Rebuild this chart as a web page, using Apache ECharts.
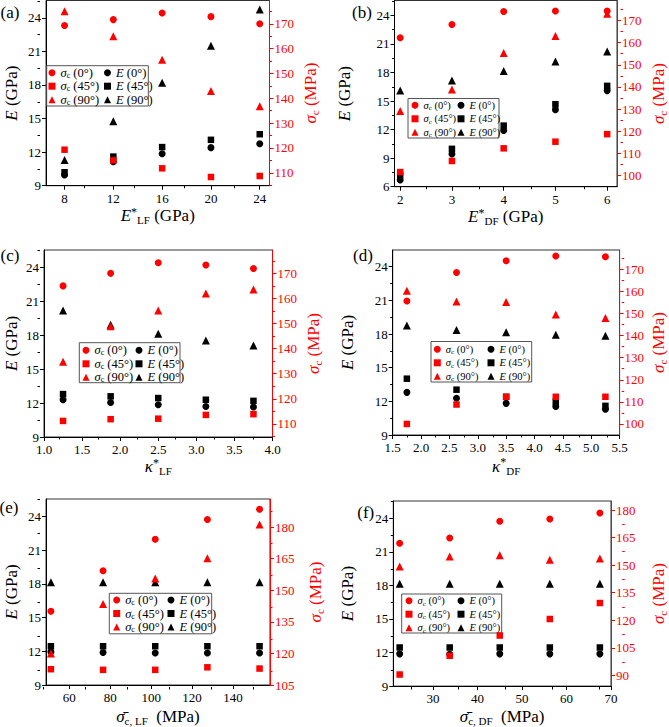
<!DOCTYPE html>
<html lang="en">
<head>
<meta charset="UTF-8">
<title>E and σc vs. layer parameters</title>
<style>
  html, body { margin: 0; padding: 0; background: #fff; }
  #main { width: 669px; height: 727px; }
</style>
</head>
<body>
<div id="main"></div>
<script src="https://cdn.jsdelivr.net/npm/echarts@6.0.0/dist/echarts.min.js"></script>
<script>
var FONT = 'Liberation Serif, Times New Roman, serif';
var RED = '#ff0000';

// (a) E*_LF
var aX = [8, 12, 16, 20, 24];
var aE0 = [9.95, 11.15, 11.86, 12.4, 12.75];
var aE45 = [10.2, 11.6, 12.45, 13.1, 13.6];
var aE90 = [11.3, 14.75, 18.2, 21.5, 24.75];
var aS0 = [169.3, 171.7, 174.4, 172.9, 170.0];
var aS45 = [119.3, 115.0, 111.8, 108.3, 108.7];
var aS90 = [175.1, 165.0, 155.5, 142.9, 136.8];

// (b) E*_DF
var bX = [2, 3, 4, 5, 6];
var bE0 = [6.7, 9.43, 11.9, 14.1, 16.1];
var bE45 = [7.2, 9.98, 12.42, 14.67, 16.6];
var bE90 = [16.1, 17.15, 18.15, 19.15, 20.2];
var bS0 = [162.2, 168.2, 174.0, 174.3, 174.3];
var bS45 = [101.6, 106.6, 112.3, 115.3, 118.7];
var bS90 = [129.1, 138.8, 155.3, 163.0, 173.0];

// (c) kappa*_LF
var cX = [1.25, 1.875, 2.5, 3.125, 3.75];
var cE0 = [12.3, 12.05, 11.85, 11.7, 11.65];
var cE45 = [12.8, 12.6, 12.45, 12.3, 12.2];
var cE90 = [20.2, 18.95, 18.15, 17.55, 17.1];
var cS0 = [165.0, 170.0, 174.2, 173.3, 171.9];
var cS45 = [111.2, 111.9, 112.1, 113.6, 113.9];
var cS90 = [134.8, 148.9, 155.2, 162.0, 163.6];

// (d) kappa*_DF
var dX = [1.75, 2.625, 3.5, 4.375, 5.25];
var dE0 = [12.8, 12.27, 11.82, 11.55, 11.3];
var dE45 = [14.02, 13.04, 12.4, 11.97, 11.6];
var dE90 = [18.77, 18.36, 18.15, 17.94, 17.85];
var dS0 = [155.7, 168.6, 173.9, 176.0, 175.7];
var dS45 = [100.0, 108.8, 112.3, 112.3, 112.3];
var dS90 = [160.3, 155.4, 155.2, 149.5, 148.0];

// (e) mean sigma_c,LF
var eX = [51, 76.5, 102, 127.5, 153];
var eE0 = [11.95, 11.9, 11.85, 11.85, 11.85];
var eE45 = [12.45, 12.45, 12.45, 12.45, 12.45];
var eE90 = [18.15, 18.15, 18.15, 18.15, 18.15];
var eS0 = [140.0, 159.2, 174.2, 183.6, 188.4];
var eS45 = [112.5, 112.2, 112.2, 113.4, 112.8];
var eS90 = [120.0, 143.4, 155.5, 165.2, 181.2];

// (f) mean sigma_c,DF
var fX = [22.5, 33.75, 45, 56.25, 67.5];
var fE0 = [11.88, 11.85, 11.88, 11.88, 11.88];
var fE45 = [12.45, 12.45, 12.45, 12.45, 12.45];
var fE90 = [18.15, 18.15, 18.15, 18.15, 18.15];
var fS0 = [161.9, 164.8, 173.9, 175.1, 178.4];
var fS45 = [90.5, 100.7, 111.7, 120.7, 129.4];
var fS90 = [149.3, 154.7, 155.4, 152.9, 153.6];

// tick labels
var eTicks = [9, 12, 15, 18, 21, 24];
var eTicksB = [6, 9, 12, 15, 18, 21, 24];
var aXTicks = [8, 12, 16, 20, 24];
var bXTicks = [2, 3, 4, 5, 6];
var cXTicks = [1.0, 1.5, 2.0, 2.5, 3.0, 3.5, 4.0];
var dXTicks = [1.5, 2.0, 2.5, 3.0, 3.5, 4.0, 4.5, 5.0, 5.5];
var eXTicks = [60, 80, 100, 120, 140];
var fXTicks = [30, 40, 50, 60, 70];
var sTicks110 = [110, 120, 130, 140, 150, 160, 170];
var sTicks100 = [100, 110, 120, 130, 140, 150, 160, 170];
var eSTicks = [105, 120, 135, 150, 165, 180];
var fSTicks = [90, 105, 120, 135, 150, 165, 180];

var legS = ['σc (0°)', 'σc (45°)', 'σc (90°)'];
var legE = ['E (0°)', 'E (45°)', 'E (90°)'];

var panels = [
  {x: aX, e: [aE0, aE45, aE90], s: [aS0, aS45, aS90], xt: aXTicks, et: eTicks, st: sTicks110,
   grid: [40, 0.5, 229.5, 185.2], xr: [6.48, 24.8], er: [9, 25.55], sr: [104.8, 179.4], dec: 0,
   xName: '{i|E}{sup|*}{sub|LF} (GPa)', xGap: 19, eGap: 25, sGap: 31,
   tag: '(a)', tagAt: [10, 12], leg: [48.5, 104, 66.2], legFont: 12.5, box: [46.7, 65.7, 101.6, 40.3]},
  {x: bX, e: [bE0, bE45, bE90], s: [bS0, bS45, bS90], xt: bXTicks, et: eTicksB, st: sTicks100,
   grid: [394.5, 0.5, 226, 186.2], xr: [1.89, 6.19], er: [6, 25.57], sr: [95, 179], dec: 0,
   xName: '{i|E}{sup|*}{sub|DF} (GPa)', xGap: 19, eGap: 40, sGap: 31,
   tag: '(b)', tagAt: [362, 12], leg: [411.5, 457.5, 98.8], legFont: 10.5, box: [408, 98.5, 91, 39.5]},
  {x: cX, e: [cE0, cE45, cE90], s: [cS0, cS45, cS90], xt: cXTicks, et: eTicks, st: sTicks110,
   grid: [40, 250, 232.5, 187], xr: [1, 4], er: [9, 25.56], sr: [104.8, 179.3], dec: 1,
   xName: '{i|κ}{sup|*}{sub|LF}', xGap: 19, eGap: 23, sGap: 31,
   tag: '(c)', tagAt: [10, 255], leg: [82.5, 135.5, 343.8], legFont: 12.5, box: [79.3, 342.7, 100.7, 40]},
  {x: dX, e: [dE0, dE45, dE90], s: [dS0, dS45, dS90], xt: dXTicks, et: eTicks, st: sTicks100,
   grid: [392.7, 250, 229, 185], xr: [1.5, 5.5], er: [9, 25.49], sr: [95, 178.75], dec: 1,
   xName: '{i|κ}{sup|*}{sub|DF}', xGap: 21, eGap: 35, sGap: 25,
   tag: '(d)', tagAt: [363, 255], leg: [433.8, 487.5, 342.8], legFont: 10.5, box: [431, 341.5, 100.7, 40.5]},
  {x: eX, e: [eE0, eE45, eE90], s: [eS0, eS45, eS90], xt: eXTicks, et: eTicks, st: eSTicks,
   grid: [40, 499, 230, 188], xr: [48.6, 158.1], er: [9, 25.56], sr: [105, 193.3], dec: 0,
   xName: '{i|σ\u0304}{sub|c, LF}  (MPa)', xGap: 21, eGap: 25, sGap: 35,
   tag: '(e)', tagAt: [9, 507], leg: [113.2, 167.5, 593.5], legFont: 12.5, box: [109.3, 593.3, 102.4, 40.5]},
  {x: fX, e: [fE0, fE45, fE90], s: [fS0, fS45, fS90], xt: fXTicks, et: eTicks, st: fSTicks,
   grid: [393.3, 501, 229, 186], xr: [21.07, 70], er: [9, 25.54], sr: [84.2, 184.9], dec: 0,
   xName: '{i|σ\u0304}{sub|c, DF}  (MPa)', xGap: 19, eGap: 36, sGap: 37,
   tag: '(f)', tagAt: [365.7, 512], leg: [405.5, 457.5, 594.2], legFont: 10.5, box: [401.7, 594, 100, 39]}
];

var markers = [
  {symbol: 'circle', size: 7},
  {symbol: 'rect', size: 6.5},
  {symbol: 'triangle', size: 8}
];

// midpoints between major ticks, for the short minor ticks
function minorTicks(ticks, range) {
  var step = ticks[1] - ticks[0];
  var out = [];
  for (var k = -1; k < ticks.length; k++) {
    var v = +(ticks[0] + (k + 0.5) * step).toFixed(4);
    if (v > range[0] && v < range[1]) out.push(v);
  }
  return out;
}

function zip(xs, ys) {
  return xs.map(function (x, k) { return [x, ys[k]]; });
}

function nameRich(color) {
  return {
    i: {fontFamily: FONT, fontStyle: 'italic', fontSize: 17, color: color, lineHeight: 20},
    sup: {fontFamily: FONT, fontSize: 12, color: color, lineHeight: 12, verticalAlign: 'top'},
    sub: {fontFamily: FONT, fontSize: 11, color: color, lineHeight: 11, verticalAlign: 'bottom'}
  };
}

function legendText(name) {
  if (name.charAt(0) === 'σ') return '{i|σ}{sub|c}' + name.slice(2);
  return '{i|E}' + name.slice(1);
}

var grids = [], xAxes = [], yAxes = [], series = [], legends = [], graphics = [];
var n = panels.length;

panels.forEach(function (p, i) {
  var g = {left: p.grid[0], top: p.grid[1], width: p.grid[2], height: p.grid[3], containLabel: false};
  grids[i] = Object.assign({show: true, borderColor: '#333', borderWidth: 1, backgroundColor: 'transparent'}, g);
  grids[n + i] = Object.assign({show: false}, g);

  var fmt = function (v) { return p.dec ? v.toFixed(p.dec) : String(v); };

  // main x axis
  xAxes[i] = {
    type: 'value', gridIndex: i, min: p.xr[0], max: p.xr[1], position: 'bottom',
    axisLine: {show: true, onZero: false, lineStyle: {color: '#000', width: 1}},
    axisTick: {show: true, customValues: p.xt, length: 4, lineStyle: {color: '#000'}},
    axisLabel: {customValues: p.xt, formatter: fmt, margin: 6, color: '#000', fontFamily: FONT, fontSize: 13},
    splitLine: {show: false},
    name: p.xName, nameLocation: 'middle', nameGap: p.xGap,
    nameTextStyle: {fontFamily: FONT, fontSize: 17, color: '#000', lineHeight: 20, rich: nameRich('#000')}
  };
  // minor x ticks
  xAxes[n + i] = {
    type: 'value', gridIndex: n + i, min: p.xr[0], max: p.xr[1], position: 'bottom', silent: true,
    axisLine: {show: false, onZero: false},
    axisTick: {show: true, customValues: minorTicks(p.xt, p.xr), length: 2.5, lineStyle: {color: '#000'}},
    axisLabel: {show: false}, splitLine: {show: false}
  };

  // E (left) and sigma_c (right)
  yAxes[2 * i] = {
    type: 'value', gridIndex: i, min: p.er[0], max: p.er[1], position: 'left',
    axisLine: {show: true, onZero: false, lineStyle: {color: '#000', width: 1}},
    axisTick: {show: true, customValues: p.et, length: 4, lineStyle: {color: '#000'}},
    axisLabel: {customValues: p.et, margin: 5, color: '#000', fontFamily: FONT, fontSize: 13},
    splitLine: {show: false},
    name: '{i|E} (GPa)', nameLocation: 'middle', nameGap: p.eGap,
    nameTextStyle: {fontFamily: FONT, fontSize: 17, color: '#000', lineHeight: 20, rich: nameRich('#000')}
  };
  yAxes[2 * i + 1] = {
    type: 'value', gridIndex: i, min: p.sr[0], max: p.sr[1], position: 'right',
    axisLine: {show: true, onZero: false, lineStyle: {color: RED, width: 1}},
    axisTick: {show: true, customValues: p.st, length: 4, lineStyle: {color: RED}},
    axisLabel: {customValues: p.st, margin: 5, color: RED, fontFamily: FONT, fontSize: 13},
    splitLine: {show: false},
    name: '{i|σ}{sub|c} (MPa)', nameLocation: 'middle', nameGap: p.sGap,
    nameTextStyle: {fontFamily: FONT, fontSize: 17, color: RED, lineHeight: 20, rich: nameRich(RED)}
  };
  yAxes[2 * n + 2 * i] = {
    type: 'value', gridIndex: n + i, min: p.er[0], max: p.er[1], position: 'left', silent: true,
    axisLine: {show: false, onZero: false},
    axisTick: {show: true, customValues: minorTicks(p.et, p.er), length: 2.5, lineStyle: {color: '#000'}},
    axisLabel: {show: false}, splitLine: {show: false}
  };
  yAxes[2 * n + 2 * i + 1] = {
    type: 'value', gridIndex: n + i, min: p.sr[0], max: p.sr[1], position: 'right', silent: true,
    axisLine: {show: false, onZero: false},
    axisTick: {show: true, customValues: minorTicks(p.st, p.sr), length: 2.5, lineStyle: {color: RED}},
    axisLabel: {show: false}, splitLine: {show: false}
  };

  // black E first, red sigma_c drawn on top
  p.e.forEach(function (ys, k) {
    series.push({
      type: 'scatter', name: legE[k], xAxisIndex: i, yAxisIndex: 2 * i,
      symbol: markers[k].symbol, symbolSize: markers[k].size,
      itemStyle: {color: '#000', opacity: 1}, data: zip(p.x, ys)
    });
  });
  p.s.forEach(function (ys, k) {
    series.push({
      type: 'scatter', name: legS[k], xAxisIndex: i, yAxisIndex: 2 * i + 1,
      symbol: markers[k].symbol, symbolSize: markers[k].size,
      itemStyle: {color: RED, opacity: 1}, data: zip(p.x, ys)
    });
  });

  var f = p.legFont;
  var legStyle = {
    fontFamily: FONT, fontSize: f, color: '#000', lineHeight: 13,
    rich: {
      i: {fontFamily: FONT, fontStyle: 'italic', fontSize: f, lineHeight: 13, color: '#000'},
      sub: {fontFamily: FONT, fontSize: Math.round(f * 0.62), lineHeight: 8, verticalAlign: 'bottom', color: '#000'}
    }
  };
  [legS, legE].forEach(function (names, c) {
    legends.push({
      show: true, orient: 'vertical', left: p.leg[c], top: p.leg[2], padding: 0,
      itemGap: 0.5, itemWidth: 7, itemHeight: 7, selectedMode: false,
      data: names, formatter: legendText, textStyle: legStyle
    });
  });

  graphics.push({
    type: 'rect', silent: true, z: 1,
    shape: {x: p.box[0], y: p.box[1], width: p.box[2], height: p.box[3]},
    style: {fill: 'rgba(255,255,255,0)', stroke: '#555', lineWidth: 1}
  });
  graphics.push({
    type: 'text', silent: true, x: p.tagAt[0], y: p.tagAt[1],
    style: {text: p.tag, fontFamily: FONT, fontSize: 17, fill: '#000', align: 'center', verticalAlign: 'middle'}
  });
});

var chart = echarts.init(document.getElementById('main'), null, {renderer: 'svg'});
chart.setOption({
  animation: false,
  backgroundColor: '#fff',
  textStyle: {fontFamily: FONT},
  grid: grids,
  xAxis: xAxes,
  yAxis: yAxes,
  legend: legends,
  graphic: graphics,
  series: series
});
</script>
</body>
</html>
